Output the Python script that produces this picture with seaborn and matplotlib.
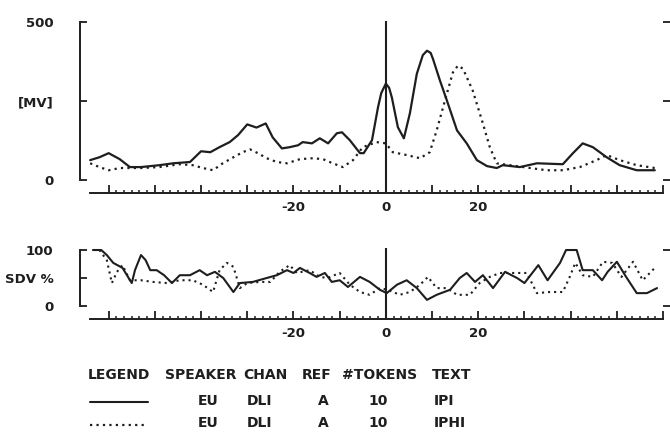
import numpy as np
import matplotlib
matplotlib.use("Agg")
import matplotlib.pyplot as plt
from matplotlib.lines import Line2D
from matplotlib.ticker import FixedLocator, FuncFormatter
import seaborn as sns

# --- data (time axis units, amplitude) ---
top_solid_t = [-64, -62, -60, -57.6, -55.4, -53, -49, -46, -42.4, -40, -38, -36, -33.8, -32, -30,
               -28, -26, -24.5, -22.5, -20.8, -19, -18, -16, -14.3, -12.5, -10.6, -9.5, -7.8, -5.6, -4.8,
               -3, -1.7, -1, 0, 0.7, 1.3, 2.6, 3.9, 5.2, 6.7, 8, 8.9, 9.7, 10.2, 11.7, 13.2, 15.4,
               17.5, 19.7, 21.9, 24, 25.3, 29, 32.7, 38.3, 40.5, 42.6, 44.8, 47.8, 50.6, 54.3, 58.2]
top_solid_v = [63, 72, 85, 66, 41, 41, 47, 53, 57, 91, 88, 104, 120, 142, 176,
               166, 179, 135, 100, 104, 110, 120, 116, 132, 116, 148, 151, 126, 85, 85,
               126, 230, 275, 305, 292, 261, 167, 132, 211, 336, 395, 409, 402, 383, 315, 252, 157,
               116, 63, 44, 38, 47, 41, 53, 50, 85, 116, 104, 72, 47, 31, 31]

top_dot_t = [-64, -62, -60, -57.6, -53, -49, -44.6, -41.8, -39.6, -37.4, -35.3, -33, -31, -29.4, -27.7,
             -25.8, -23.6, -21.4, -18.6, -15.8, -13.6, -11.5, -9.3, -7.1, -5, -2, 0, 1.5, 4.5, 7.4,
             9.5, 11, 12.8, 14.5, 15.6, 16.7, 18.8, 21, 22.5, 24, 26.8, 31.2, 34.8, 38.3, 42,
             45.6, 47.8, 50.6, 54.3, 58.2]
top_dot_v = [53, 41, 31, 38, 38, 41, 50, 47, 38, 31, 53, 72, 88, 97, 85,
             69, 57, 53, 66, 69, 66, 53, 41, 63, 104, 120, 116, 88, 79, 69,
             88, 157, 252, 340, 362, 352, 283, 179, 104, 53, 47, 38, 31, 31, 41,
             63, 79, 63, 47, 38]

bot_solid_t = [-63.4, -61.6, -60.4, -59, -57, -55, -54.3, -53, -52, -51, -49.6, -48, -46.3, -44.6, -42.4,
               -40.3, -38.7, -37, -35.2, -33, -31.6, -28.8, -25.8, -23.6, -21.4, -20, -18.6, -16.5, -15, -13.2,
               -11.7, -10, -8.2, -5.6, -3.5, -1.3, 0.2, 2.4, 4.5, 6.7, 8.9, 11, 13.9, 16, 17.5,
               19.3, 21, 23.2, 25.8, 28.4, 30, 33, 35, 37.7, 39, 41.3, 42.6, 44.8, 46.8, 48,
               50, 52, 54.3, 56.5, 58.7]
bot_solid_v = [100, 100, 91, 77, 68, 41, 64, 91, 82, 64, 64, 55, 41, 55, 55,
               64, 55, 61, 50, 25, 41, 43, 50, 55, 64, 59, 68, 59, 52, 59,
               43, 46, 34, 52, 43, 29, 23, 38, 46, 32, 11, 20, 29, 50, 59,
               43, 55, 32, 61, 50, 41, 73, 46, 77, 100, 100, 64, 64, 46, 61,
               79, 52, 23, 23, 32]

bot_dot_t = [-62, -60.4, -59.3, -58.2, -57, -55.4, -53, -50.4, -47.4, -44.6, -41.8, -39.6, -37.4, -36, -34.4,
             -33, -31.6, -30, -27.3, -25, -23, -20.8, -19.3, -16.5, -14.3, -12.6, -10, -7.8, -5.6, -3.5,
             -1.3, 0.4, 3, 5.2, 7.4, 9.1, 11, 13.2, 15.4, 18.2, 20.3, 22.5, 24.7, 27.5, 30.5,
             32.7, 35.5, 38.3, 39.8, 41, 42.6, 44.8, 47, 49, 51, 53.5, 55.6, 58.2]
bot_dot_v = [100, 82, 41, 61, 73, 46, 46, 43, 41, 46, 46, 38, 25, 64, 77,
             70, 32, 41, 43, 43, 61, 73, 59, 64, 52, 50, 59, 38, 25, 20,
             32, 29, 20, 25, 38, 52, 32, 32, 20, 20, 41, 52, 59, 59, 59,
             23, 25, 25, 52, 77, 55, 52, 79, 77, 52, 79, 46, 68]

x_labels = {-20: "-20", 0: "0", 20: "20"}
legend_header = ["LEGEND", "SPEAKER", "CHAN", "REF", "#TOKENS", "TEXT"]
row_solid = ["EU", "DLI", "A", "10", "IPI"]
row_dot = ["EU", "DLI", "A", "10", "IPHI"]

sns.set_style("white")
plt.rcParams["font.family"] = ["DejaVu Sans"]
plt.rcParams["font.weight"] = "bold"

ink = "#1e1e1e"
dots = (0, (1.0, 1.9))

fig = plt.figure(figsize=(6.7, 4.32), dpi=100)
ax1 = fig.add_axes([80 / 670, (432 - 193) / 432, 590 / 670, 172 / 432])
ax2 = fig.add_axes([80 / 670, (432 - 319) / 432, 590 / 670, 71 / 432])

sns.lineplot(x=top_solid_t, y=top_solid_v, ax=ax1, color=ink, lw=1.6)
sns.lineplot(x=top_dot_t, y=top_dot_v, ax=ax1, color=ink, lw=1.6, linestyle=dots)
sns.lineplot(x=bot_solid_t, y=bot_solid_v, ax=ax2, color=ink, lw=1.5)
sns.lineplot(x=bot_dot_t, y=bot_dot_v, ax=ax2, color=ink, lw=1.5, linestyle=dots)

ax1.set_ylim(-41, 503)
ax2.set_ylim(-23.2, 103.6)

for ax, top, yt, ylab in [(ax1, 500, [0, 250, 500], ["0", "[MV]", "500"]),
                          (ax2, 100, [0, 50, 100], ["0", "SDV %", "100"])]:
    ax.set_xlim(-66.2, 61.5)
    ax.axvline(0, color=ink, lw=1.5)
    for s in ["top", "right"]:
        ax.spines[s].set_visible(False)
    ax.spines["left"].set_bounds(0, top)
    ax.spines["bottom"].set_bounds(-64, 60)
    for s in ["left", "bottom"]:
        ax.spines[s].set_color(ink)
        ax.spines[s].set_linewidth(1.4)
    ax.set_yticks(yt)
    ax.set_yticklabels(ylab)
    ax.tick_params(axis="y", direction="in", length=5, width=1.3, color=ink,
                   left=True, right=True, labelright=False, pad=19, labelsize=9.5)
    ax.xaxis.set_major_locator(FixedLocator(np.arange(-60, 61, 10)))
    ax.xaxis.set_minor_locator(FixedLocator(np.arange(-60, 60.01, 10 / 6)))
    ax.xaxis.set_major_formatter(FuncFormatter(lambda v, p: x_labels.get(int(round(v)), "")))
    ax.tick_params(axis="x", which="major", direction="in", length=5.5, width=1.3,
                   color=ink, pad=6, labelsize=9.5, bottom=True)
    ax.tick_params(axis="x", which="minor", direction="in", length=2.5, width=1.1,
                   color=ink, bottom=True)
    ax.set_xlabel("")
    ax.set_ylabel("")
    for lab in ax.get_xticklabels() + ax.get_yticklabels():
        lab.set_fontweight("bold")
        lab.set_color(ink)

# no right tick at the middle of the SDV panel
ax2.yaxis.get_major_ticks()[1].tick2line.set_visible(False)

# legend table
col_x = [88, 165, 243, 302, 342, 432]
val_x = [198, 247, 318, 368, 434]
for t, x in zip(legend_header, col_x):
    fig.text(x / 670, (432 - 375) / 432, t, fontsize=10, fontweight="bold", color=ink, va="center")
for row, y in [(row_solid, 401), (row_dot, 423)]:
    for t, x in zip(row, val_x):
        fig.text(x / 670, (432 - y) / 432, t, fontsize=10, fontweight="bold", color=ink, va="center")
fig.add_artist(Line2D([90 / 670, 148 / 670], [(432 - 402) / 432] * 2, color=ink, lw=1.5))
fig.add_artist(Line2D([90 / 670, 148 / 670], [(432 - 425) / 432] * 2, color=ink, lw=1.6, linestyle=dots))

fig.savefig("out.png", dpi=100)
